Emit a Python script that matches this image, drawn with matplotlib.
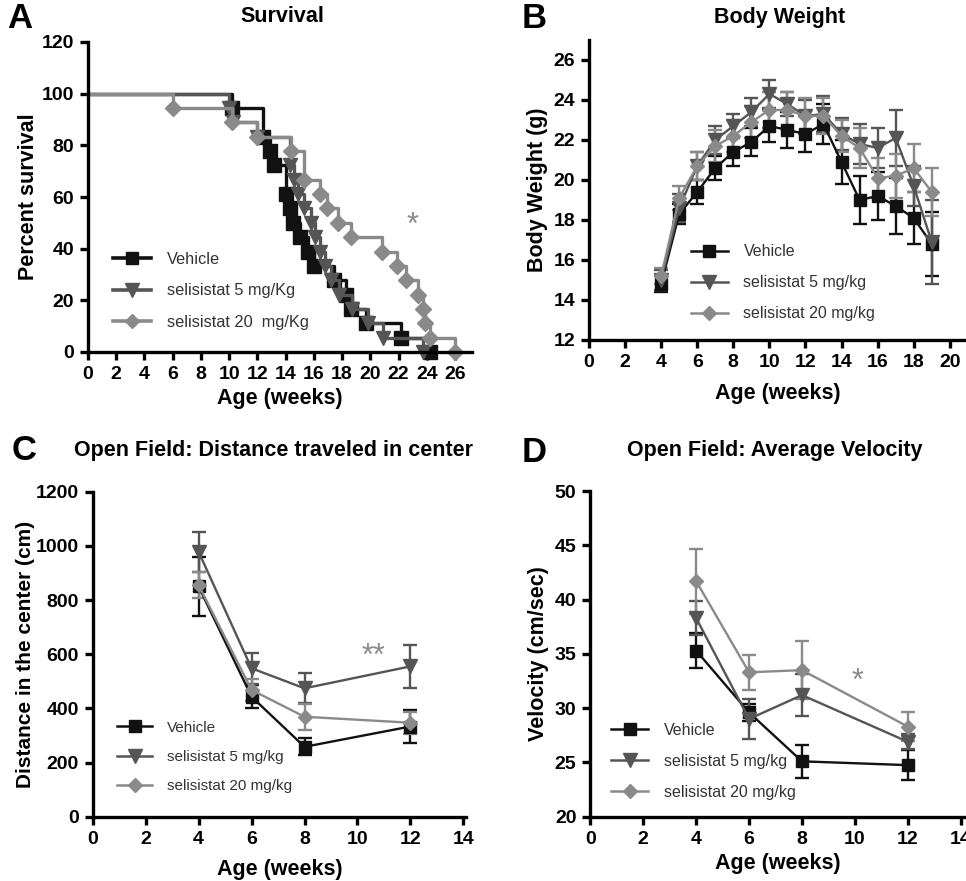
import numpy as np
import matplotlib
matplotlib.use('Agg')
import matplotlib.pyplot as plt
from matplotlib.lines import Line2D

plt.rcParams['font.family'] = ['Liberation Sans', 'DejaVu Sans']

# ---- data ----
# A: Kaplan-Meier survival (weeks, percent)
veh_t = [0, 10.2, 12.4, 12.9, 13.2, 14.0, 14.3, 14.5, 15.0, 15.6, 16.0, 17.4, 18.3, 18.6, 19.7, 22.2, 24.2]
veh_s = [100, 94.4, 83.3, 77.8, 72.2, 61.1, 55.6, 50.0, 44.4, 38.9, 33.3, 27.8, 22.2, 16.7, 11.1, 5.6, 0]
sel5_t = [0, 10.0, 10.3, 12.0, 14.3, 14.6, 14.9, 15.3, 15.8, 16.1, 16.4, 16.8, 17.2, 17.8, 18.7, 19.8, 20.9, 23.7]
sel5_s = [100, 94.4, 88.9, 83.3, 72.2, 66.7, 61.1, 55.6, 50.0, 44.4, 38.9, 33.3, 27.8, 22.2, 16.7, 11.1, 5.6, 0]
sel20_t = [0, 6.0, 10.2, 12.0, 14.4, 15.3, 16.4, 16.9, 17.7, 18.6, 20.8, 21.9, 22.5, 23.4, 23.7, 23.9, 24.2, 26.0]
sel20_s = [100, 94.4, 88.9, 83.3, 77.8, 66.7, 61.1, 55.6, 50.0, 44.4, 38.9, 33.3, 27.8, 22.2, 16.7, 11.1, 5.6, 0]

# B: body weight (g)
bw_weeks = [4, 5, 6, 7, 8, 9, 10, 11, 12, 13, 14, 15, 16, 17, 18, 19]
bw_veh = [14.8, 18.3, 19.4, 20.6, 21.4, 21.9, 22.7, 22.5, 22.3, 22.8, 20.9, 19.0, 19.2, 18.7, 18.1, 16.8]
bw_veh_err = [0.4, 0.5, 0.6, 0.6, 0.7, 0.7, 0.8, 0.9, 0.9, 1.0, 1.1, 1.2, 1.2, 1.4, 1.3, 1.6]
bw_sel5 = [15.0, 18.6, 20.7, 22.0, 22.7, 23.4, 24.3, 23.8, 23.2, 23.3, 22.3, 21.8, 21.6, 22.1, 19.7, 16.9]
bw_sel5_err = [0.5, 0.7, 0.7, 0.7, 0.6, 0.7, 0.7, 0.6, 0.8, 0.9, 0.8, 1.0, 1.0, 1.4, 1.0, 2.1]
bw_sel20 = [15.2, 19.1, 20.7, 21.7, 22.2, 22.9, 23.5, 23.5, 23.2, 23.2, 22.2, 21.6, 20.1, 20.2, 20.6, 19.4]
bw_sel20_err = [0.4, 0.6, 0.7, 0.8, 0.8, 0.8, 0.9, 0.9, 0.9, 0.9, 0.8, 1.0, 1.0, 1.1, 1.2, 1.2]

# C and D: open field
of_weeks = [4, 6, 8, 12]
dist_veh = [850, 443, 258, 333]
dist_veh_err = [108, 42, 32, 60]
dist_sel5 = [978, 548, 474, 555]
dist_sel5_err = [75, 58, 55, 78]
dist_sel20 = [855, 468, 369, 347]
dist_sel20_err = [48, 40, 48, 40]

vel_veh = [35.3, 29.6, 25.1, 24.75]
vel_veh_err = [1.6, 0.8, 1.5, 1.4]
vel_sel5 = [38.3, 29.0, 31.2, 26.9]
vel_sel5_err = [1.6, 1.8, 1.9, 0.7]
vel_sel20 = [41.7, 33.3, 33.5, 28.3]
vel_sel20_err = [3.0, 1.6, 2.7, 1.3]

C_VEH = '#111111'
C_5 = '#555555'
C_20 = '#8a8a8a'
MARKS = [('s', C_VEH, 9), ('v', C_5, 9.5), ('D', C_20, 7.5)]


def style(ax):
    ax.spines['top'].set_visible(False)
    ax.spines['right'].set_visible(False)
    for s in ['left', 'bottom']:
        ax.spines[s].set_linewidth(2.4)
    ax.tick_params(width=2.4, length=6, labelsize=14, pad=4)
    for lab in ax.get_xticklabels() + ax.get_yticklabels():
        lab.set_fontweight('bold')


def add_legend(ax, labels, x, y, fs, lw):
    handles = [Line2D([], [], color=c, marker=m, ms=ms, lw=lw) for m, c, ms in MARKS]
    leg = ax.legend(handles, labels, loc='lower left', bbox_to_anchor=(x, y), frameon=False,
                    fontsize=fs, handlelength=2.3, handletextpad=1.0,
                    labelspacing=1.0, borderpad=0, borderaxespad=0)
    for t in leg.get_texts():
        t.set_color('#333333')


def err_plot(ax, x, y, e, i):
    m, c, ms = MARKS[i]
    ax.errorbar(x, y, yerr=e, color=c, marker=m, ms=ms, lw=1.7,
                elinewidth=1.7, capsize=5, capthick=1.7, clip_on=False)


def labels(ax, xl, yl, xpad, ypad, fs=15.5):
    ax.set_xlabel(xl, fontsize=15.5, fontweight='bold', labelpad=xpad)
    ax.set_ylabel(yl, fontsize=fs, fontweight='bold', labelpad=ypad)


fig = plt.figure(figsize=(9.66, 8.81), dpi=100)
W, H = 966.0, 881.0


def px_axes(left, right, top, bottom):
    return fig.add_axes([left / W, 1 - bottom / H, (right - left) / W, (bottom - top) / H])


# ---- A: survival ----
ax = px_axes(88, 472, 42, 352)
for (t, s), (m, c, ms) in zip([(veh_t, veh_s), (sel5_t, sel5_s), (sel20_t, sel20_s)], MARKS):
    ax.step(t, s, where='post', color=c, lw=2.4, clip_on=False)
    ax.plot(t[1:], s[1:], ls='none', marker=m, ms=ms + 0.5, color=c, clip_on=False)
ax.set_xlim(0, 27.2)
ax.set_ylim(0, 120)
ax.set_xticks(np.arange(0, 27, 2))
ax.set_yticks(np.arange(0, 121, 20))
labels(ax, 'Age (weeks)', 'Percent survival', 4, 2)
ax.text(23.0, 49, '*', color=C_20, fontsize=22, ha='center', va='center')
style(ax)
add_legend(ax, ['Vehicle', 'selisistat 5 mg/Kg', 'selisistat 20  mg/Kg'], 0.065, 0.072, 11.8, 2.6)

# ---- B: body weight ----
ax = px_axes(589, 966, 40, 340)
err_plot(ax, bw_weeks, bw_veh, bw_veh_err, 0)
err_plot(ax, bw_weeks, bw_sel5, bw_sel5_err, 1)
err_plot(ax, bw_weeks, bw_sel20, bw_sel20_err, 2)
ax.set_xlim(0, 20.9)
ax.set_ylim(12, 27)
ax.set_xticks(np.arange(0, 21, 2))
ax.set_yticks(np.arange(12, 27, 2))
labels(ax, 'Age (weeks)', 'Body Weight (g)', 9, 4)
style(ax)
add_legend(ax, ['Vehicle', 'selisistat 5 mg/kg', 'selisistat 20 mg/kg'], 0.27, 0.063, 11.5, 1.8)

# ---- C: distance in center ----
ax = px_axes(92.7, 466, 491.7, 816.7)
err_plot(ax, of_weeks, dist_veh, dist_veh_err, 0)
err_plot(ax, of_weeks, dist_sel5, dist_sel5_err, 1)
err_plot(ax, of_weeks, dist_sel20, dist_sel20_err, 2)
ax.set_xlim(0, 14.1)
ax.set_ylim(0, 1200)
ax.set_xticks(np.arange(0, 15, 2))
ax.set_yticks(np.arange(0, 1201, 200))
labels(ax, 'Age (weeks)', 'Distance in the center (cm)', 8, 0.5, fs=15)
ax.text(10.6, 590, '**', color=C_20, fontsize=22, ha='center', va='center')
style(ax)
add_legend(ax, ['Vehicle', 'selisistat 5 mg/kg', 'selisistat 20 mg/kg'], 0.065, 0.072, 11, 1.8)

# ---- D: velocity ----
ax = px_axes(590.3, 966, 491, 816.7)
err_plot(ax, of_weeks, vel_veh, vel_veh_err, 0)
err_plot(ax, of_weeks, vel_sel5, vel_sel5_err, 1)
err_plot(ax, of_weeks, vel_sel20, vel_sel20_err, 2)
ax.set_xlim(0, 14.2)
ax.set_ylim(20, 50)
ax.set_xticks(np.arange(0, 15, 2))
ax.set_yticks(np.arange(20, 51, 5))
labels(ax, 'Age (weeks)', 'Velocity (cm/sec)', 4, 4)
ax.text(10.1, 32.4, '*', color=C_20, fontsize=22, ha='center', va='center')
style(ax)
add_legend(ax, ['Vehicle', 'selisistat 5 mg/kg', 'selisistat 20 mg/kg'], 0.056, 0.052, 11.5, 1.8)

# ---- titles and panel letters ----
for x, y, txt in [(282, 17, 'Survival'), (780, 17, 'Body Weight'),
                  (273, 451, 'Open Field: Distance traveled in center'),
                  (775, 451, 'Open Field: Average Velocity')]:
    fig.text(x / W, 1 - y / H, txt, ha='center', va='center', fontsize=15.5, fontweight='bold')
for x, y, txt in [(7, 18, 'A'), (522, 19, 'B'), (12, 450, 'C'), (522, 452, 'D')]:
    fig.text(x / W, 1 - y / H, txt, ha='left', va='center', fontsize=25, fontweight='bold')

fig.savefig('out.png', dpi=100)
